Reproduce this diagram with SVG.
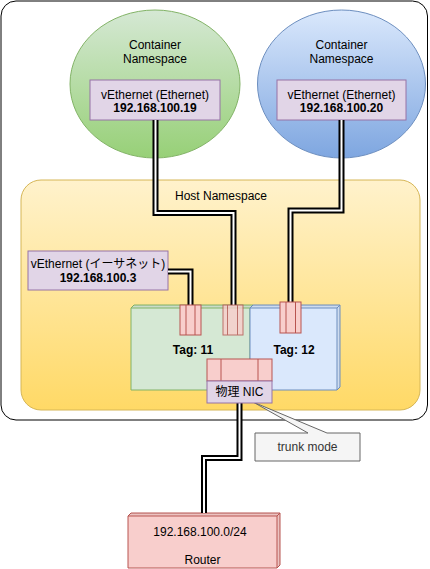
<svg xmlns="http://www.w3.org/2000/svg" width="430" height="569" viewBox="0 0 430 569">
<defs>
<linearGradient id="gY" x1="0" y1="0" x2="0" y2="1"><stop offset="0" stop-color="#fff2cc"/><stop offset="1" stop-color="#ffd966"/></linearGradient>
<linearGradient id="gG" x1="0" y1="0" x2="0" y2="1"><stop offset="0" stop-color="#d5e8d4"/><stop offset="1" stop-color="#97d077"/></linearGradient>
<linearGradient id="gB" x1="0" y1="0" x2="0" y2="1"><stop offset="0" stop-color="#dae8fc"/><stop offset="1" stop-color="#7ea6e0"/></linearGradient>
<style>
text{font-family:"Liberation Sans",Arial,"Noto Sans CJK JP",sans-serif;font-size:12px;fill:#000;text-anchor:middle}
.b{font-weight:bold}
.pur{fill:#e1d5e7;stroke:#9673a6}
.red{fill:#f8cecc;stroke:#b85450}
.ln{fill:none;stroke:#b85450}
.l1{fill:none;stroke:#000;stroke-width:6}
.l2{fill:none;stroke:#fff;stroke-width:2}
.shade{fill:#000;fill-opacity:0.05}
</style>
</defs>
<g id="frame"><rect x="1" y="1" width="426.5" height="419" rx="15" fill="#fff" stroke="#000"/></g>
<g id="host"><rect x="21" y="180" width="399" height="230" rx="20" fill="url(#gY)" stroke="#d6b656"/><text x="221" y="200">Host Namespace</text></g>
<g id="container1"><ellipse cx="155" cy="84" rx="85" ry="74" fill="url(#gG)" stroke="#82b366"/><text x="155" y="49">Container</text><text x="155" y="63">Namespace</text></g>
<g id="container2"><ellipse cx="341.5" cy="84" rx="84" ry="74" fill="url(#gB)" stroke="#6c8ebf"/><text x="341.5" y="49">Container</text><text x="341.5" y="63">Namespace</text></g>
<g id="veth1"><rect class="pur" x="90" y="80" width="130" height="40"/><text x="155" y="99">vEthernet (Ethernet)</text><text class="b" x="155" y="112">192.168.100.19</text></g>
<g id="veth2"><rect class="pur" x="277" y="80" width="129" height="40"/><text x="341.5" y="99">vEthernet (Ethernet)</text><text class="b" x="341.5" y="112">192.168.100.20</text></g>
<g id="veth3"><rect class="pur" x="28" y="251" width="140" height="39"/><text x="98" y="268">vEthernet (イーサネット)</text><text class="b" x="98" y="282">192.168.100.3</text></g>
<g id="tag11">
<path d="M131,308 L134,305 L253,305 L253,387 L250,390 L131,390 Z" fill="#d5e8d4" stroke="#82b366"/>
<path class="shade" d="M131,308 L134,305 L253,305 L250,308 Z"/>
<path d="M131,308 H250 L253,305 M250,308 V390" fill="none" stroke="#82b366"/>
<text class="b" x="193" y="354">Tag: 11</text>
</g>
<g id="tag12">
<path d="M250,308 L253,305 L340,305 L340,387 L337,390 L250,390 Z" fill="#dae8fc" stroke="#6c8ebf"/>
<path class="shade" d="M250,308 L253,305 L340,305 L337,308 Z M337,308 L340,305 L340,387 L337,390 Z"/>
<path d="M250,308 H337 L340,305 M337,308 V390" fill="none" stroke="#6c8ebf"/>
<text class="b" x="294" y="354">Tag: 12</text>
</g>
<g id="router">
<path d="M128,516 L131,513 L280,513 L280,565 L277,568 L128,568 Z" fill="#f8cecc" stroke="#b85450"/>
<path class="shade" d="M128,516 L131,513 L280,513 L277,516 Z M277,516 L280,513 L280,565 L277,568 Z"/>
<path d="M128,516 H277 L280,513 M277,516 V568" fill="none" stroke="#b85450"/>
<text x="200" y="536">192.168.100.0/24</text>
<text x="202.5" y="564">Router</text>
</g>
<g id="connectors">
<path class="l1" d="M155.5,120 V213 H233.5 V305"/><path class="l2" d="M155.5,120 V213 H233.5 V305"/>
<path class="l1" d="M341.5,120 V210.5 H290.5 V302"/><path class="l2" d="M341.5,120 V210.5 H290.5 V302"/>
<path class="l1" d="M168,271.5 H190.5 V305"/><path class="l2" d="M168,271.5 H190.5 V305"/>
<path class="l1" d="M239.5,403 V458 H204 V513"/><path class="l2" d="M239.5,403 V458 H204 V513"/>
</g>
<g id="callout"><path d="M255,433 H308 L253,402 L327,433 H360 V461 H255 Z" fill="#f5f5f5" stroke="#666"/><text x="307.5" y="451" style="fill:#333">trunk mode</text></g>
<g id="port1"><rect class="red" x="180" y="305" width="21" height="30"/><path class="ln" d="M186,305 V335 M195,305 V335"/></g>
<g id="port2" opacity="0.8"><rect class="red" x="223" y="305" width="20" height="30"/><path class="ln" d="M227.5,305 V335 M237.5,305 V335"/></g>
<g id="port3"><rect class="red" x="280" y="302" width="21" height="31"/><path class="ln" d="M286,302 V333 M295.5,302 V333"/></g>
<g id="nic"><rect class="red" x="207" y="359" width="65" height="22"/><path class="ln" d="M221,359 V381 M258,359 V381"/><rect class="pur" x="207" y="381" width="65" height="22"/><text x="239.5" y="396">物理 NIC</text></g>
</svg>
